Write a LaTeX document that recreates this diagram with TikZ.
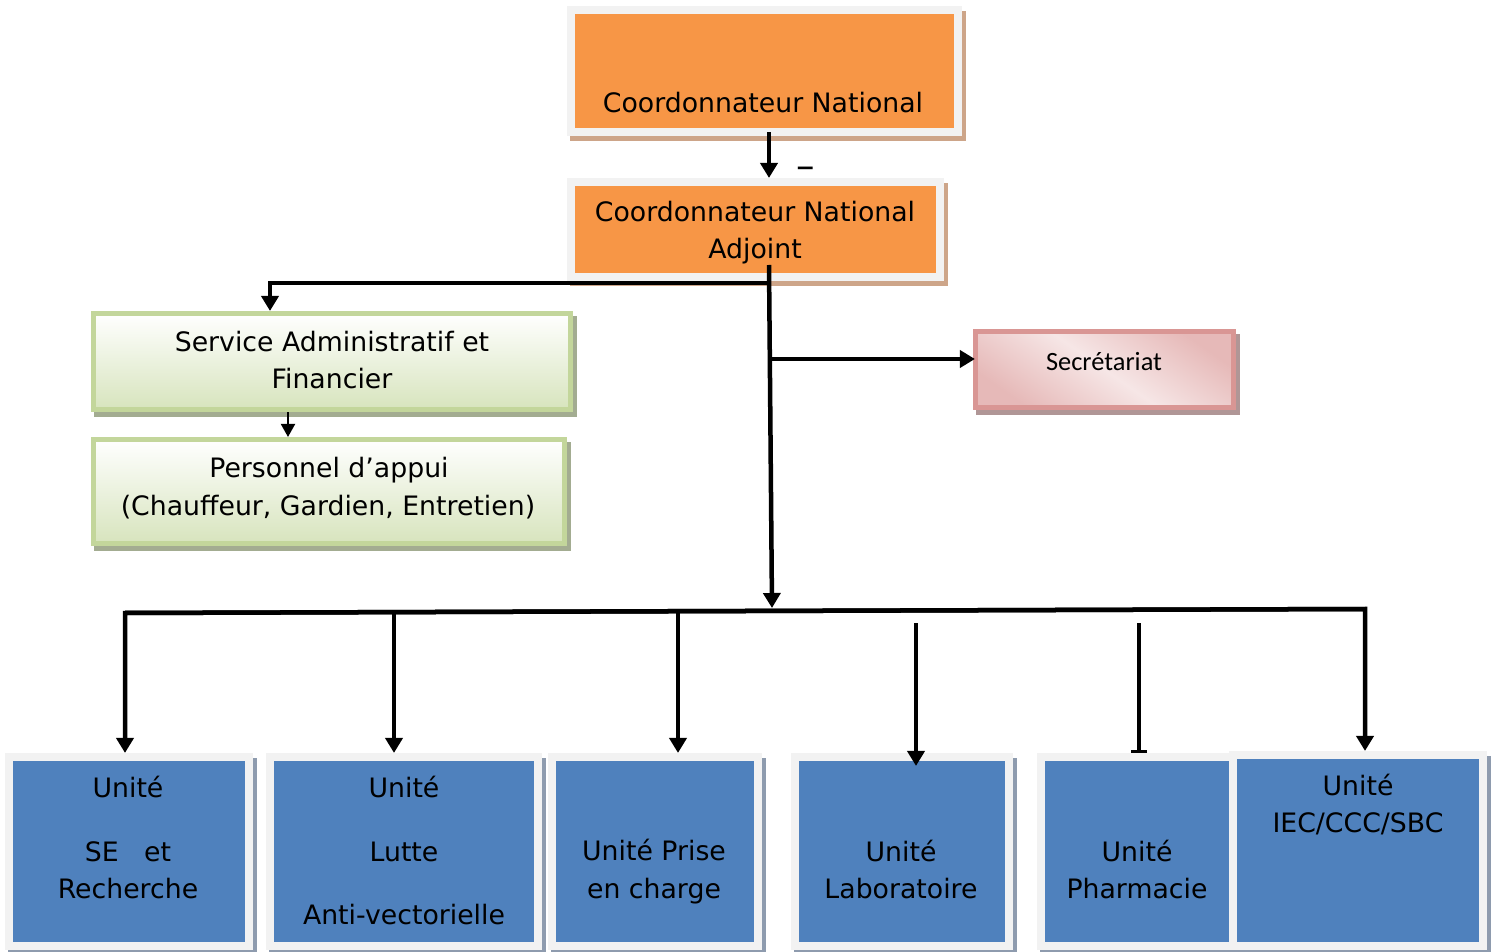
\documentclass[tikz,border=0pt]{standalone}
\usepackage{fontspec}
\setmainfont{DejaVu Sans}
\newfontfamily\calibfont{Carlito}
\usetikzlibrary{arrows.meta,backgrounds,calc}
\definecolor{orangeF}{HTML}{F79646}
\definecolor{frameG}{HTML}{F2F2F2}
\definecolor{shadowO}{HTML}{CDA589}
\definecolor{blueF}{HTML}{4F81BD}
\definecolor{shadowB}{HTML}{8E9BAE}
\definecolor{greenB}{HTML}{C3D69B}
\definecolor{greenL}{HTML}{D7E4BD}
\definecolor{shadowG}{HTML}{A3AC91}
\definecolor{pinkB}{HTML}{D99694}
\definecolor{pinkD}{HTML}{E6B9B8}
\definecolor{pinkL}{HTML}{F6E6E6}
\definecolor{shadowP}{HTML}{B09696}
\begin{document}
\begin{tikzpicture}[x=0.01cm,y=-0.01cm,
  box/.style={rectangle, draw=frameG, line width=0.08cm, inner sep=0pt},
  obox/.style={box, fill=orangeF},
  bbox/.style={box, fill=blueF},
  gbox/.style={rectangle, draw=greenB, line width=0.05cm, inner sep=0pt, top color=white, bottom color=greenL},
  pbox/.style={rectangle, draw=pinkB, line width=0.05cm, inner sep=0pt, top color=pinkD, bottom color=pinkD, middle color=pinkL, shading angle=-35},
  lbl/.style={anchor=base, inner sep=0pt, font=\fontsize{7.6}{10.5}\selectfont, text=black},
  ln/.style={line width=0.045cm},
  arr/.style={line width=0.045cm, -{Triangle[width=0.17cm,length=0.15cm]}},
  arrs/.style={line width=0.02cm, -{Triangle[width=0.14cm,length=0.13cm]}},
  barend/.style={line width=0.045cm, -{Bar[width=0.16cm,line width=0.03cm]}},
]
\useasboundingbox (0,0) rectangle (1497,952);

% boxes
\node[obox, minimum width=3.87cm, minimum height=1.22cm] (cn) at (764.5,71) {};
\node[obox, minimum width=3.69cm, minimum height=0.95cm] (cna) at (755.5,229.5) {};
\node[pbox, minimum width=2.58cm, minimum height=0.76cm] (sec) at (1104.5,369.5) {};
\node[gbox, minimum width=4.77cm, minimum height=0.96cm] (saf) at (332,361.5) {};
\node[gbox, minimum width=4.71cm, minimum height=1.04cm] (pers) at (329,491.5) {};
\node[bbox, minimum width=2.40cm, minimum height=1.89cm] (u1) at (129,851.5) {};
\node[bbox, minimum width=2.68cm, minimum height=1.89cm] (u2) at (404,851.5) {};
\node[bbox, minimum width=2.06cm, minimum height=1.89cm] (u3) at (655,851.5) {};
\node[bbox, minimum width=2.14cm, minimum height=1.89cm] (u4) at (902,851.5) {};
\node[bbox, minimum width=1.92cm, minimum height=1.89cm] (u5) at (1137,851.5) {};
\node[bbox, minimum width=2.50cm, minimum height=1.91cm] (u6) at (1358,850.5) {};

% shadows
\begin{scope}[on background layer]
  \foreach \n/\c in {cn/shadowO, cna/shadowO, sec/shadowP, saf/shadowG, pers/shadowG,
                     u1/shadowB, u2/shadowB, u3/shadowB, u4/shadowB, u5/shadowB, u6/shadowB}{
    \fill[\c] ([xshift=0.035cm,yshift=-0.05cm]\n.north west) rectangle ([xshift=0.035cm,yshift=-0.05cm]\n.south east);
  }
\end{scope}

% texts
\node[lbl] (tcn) at (763,113) {Coordonnateur National};
\node[lbl] (tcna1) at (755,222) {Coordonnateur National};
\node[lbl] (tcna2) at (755,259) {Adjoint};
\node[lbl, font=\calibfont\fontsize{7.5}{10.5}\selectfont] (tsec) at (1104,370) {Secrétariat};
\node[lbl] (tsaf1) at (332,352) {Service Administratif et};
\node[lbl] (tsaf2) at (332,389) {Financier};
\node[lbl] (tpers1) at (329,478) {Personnel d’appui};
\node[lbl] (tpers2) at (328,515) {(Chauffeur, Gardien, Entretien)};
\node[lbl] (tu1a) at (128,797) {Unité};
\node[lbl] (tu1b) at (128,861) {SE\ \ \ et};
\node[lbl] (tu1c) at (128,898) {Recherche};
\node[lbl] (tu2a) at (404,797) {Unité};
\node[lbl] (tu2b) at (404,861) {Lutte};
\node[lbl] (tu2c) at (404,924) {Anti-vectorielle};
\node[lbl] (tu3a) at (654,860) {Unité Prise};
\node[lbl] (tu3b) at (654,898) {en charge};
\node[lbl] (tu4a) at (901,861) {Unité};
\node[lbl] (tu4b) at (901,898) {Laboratoire};
\node[lbl] (tu5a) at (1137,861) {Unité};
\node[lbl] (tu5b) at (1137,898) {Pharmacie};
\node[lbl] (tu6a) at (1358,795) {Unité};
\node[lbl] (tu6b) at (1358,832) {IEC/CCC/SBC};
\node[lbl, font=\fontsize{10.5}{12}\selectfont] (dash) at (806,179) {–};

% connectors
\coordinate (jt) at (769,265);
\coordinate (ja) at (769,283);
\coordinate (js) at (771,359);
\coordinate (jb) at (772,608);
\coordinate (bl) at (125,613);
\coordinate (br) at (1365,609);
\coordinate (b2) at (394,612);
\coordinate (b3) at (678,612);
\coordinate (b4) at (916,623);
\coordinate (b5) at (1139,623);
\coordinate (sp) at ($(saf.south)+(-44,0)$);

\draw[arr] ($(cn.south)+(4.5,-4)$) -- ($(cna.north)+(13.5,0)$);
\draw[arr] (jt) -- (jb);
\draw[arr] (ja) -| ($(saf.north)+(-62,0)$);
\draw[arr] (js) -- ($(js -| sec.west)+(2,0)$);
\draw[arrs] (sp) -- (sp |- pers.north);

\draw[arr] (br) -- (bl) -- (bl |- u1.north);
\draw[arr] (bl) -- (br) -- (br |- u6.north);
\draw[arr] (b2) -- (b2 |- u2.north);
\draw[arr] (b3) -- (b3 |- u3.north);
\draw[arr] (b4) -- ($(b4 |- u4.north)+(0,13)$);
\draw[barend] (b5) -- (b5 |- u5.north);
\end{tikzpicture}
\end{document}
